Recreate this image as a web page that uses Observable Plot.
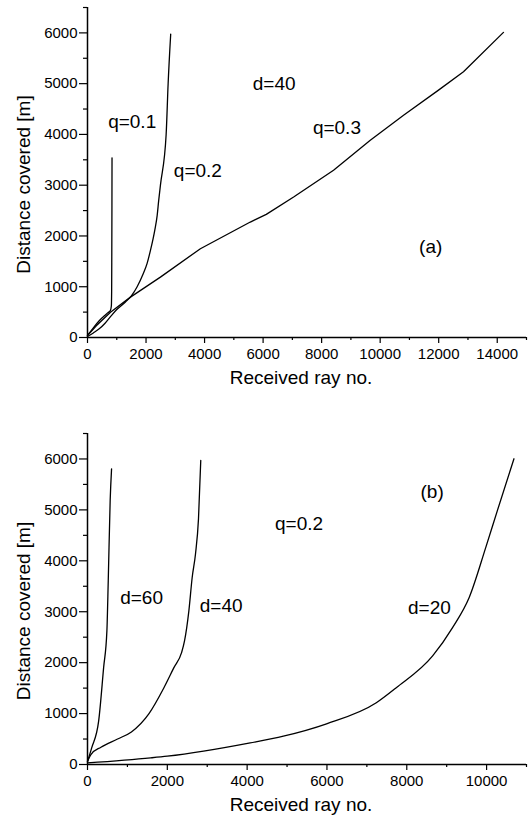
<!DOCTYPE html>
<html><head><meta charset="utf-8">
<script src="https://cdn.jsdelivr.net/npm/d3@7"></script>
<script src="https://cdn.jsdelivr.net/npm/@observablehq/plot@0.6"></script>
<style>body{margin:0;background:#fff} svg{display:block}</style>
</head><body><div id="chart"></div>
<script>
// ---------- Panel (a): d=40, varying q ----------
const aQ01X = [0, 200, 400, 600, 700, 780, 815, 825, 830, 835, 838];
const aQ01Y = [40, 190, 330, 440, 490, 530, 620, 900, 1600, 2600, 3540];
const aQ02X = [0, 200, 400, 600, 800, 1000, 1297, 1500, 1696, 1900, 2037, 2151, 2298, 2380, 2433, 2492, 2687, 2755, 2843];
const aQ02Y = [20, 90, 170, 280, 420, 550, 700, 820, 1000, 1250, 1460, 1716, 2110, 2400, 2700, 3000, 4000, 5000, 5976];
const aQ03X = [0, 300, 785, 1468, 2491, 3857, 5563, 6109, 7043, 8407, 9662, 10799, 11994, 12847, 14213];
const aQ03Y = [40, 230, 499, 795, 1189, 1749, 2274, 2426, 2767, 3294, 3886, 4379, 4872, 5233, 6010];
const aLabelText = ["q=0.1", "q=0.2", "d=40", "q=0.3", "(a)"];
const aLabelX = [1526, 3772, 6378, 8522, 11727];
const aLabelY = [4240, 3280, 5004, 4128, 1781];

// ---------- Panel (b): q=0.2, varying d ----------
const bD60X = [0, 105, 279, 404, 486, 520, 568, 603];
const bD60Y = [60, 327, 852, 1902, 2624, 3608, 5183, 5807];
const bD40X = [0, 90, 337, 753, 1100, 1541, 1915, 2165, 2357, 2431, 2540, 2623, 2706, 2781, 2838];
const bD40Y = [60, 200, 340, 500, 640, 1000, 1508, 1902, 2197, 2427, 3018, 3673, 4134, 4823, 5970];
const bD20X = [0, 1584, 2000, 4077, 4908, 5990, 7237, 7736, 8648, 9147, 9564, 9980, 10270, 10686];
const bD20Y = [30, 130, 163, 425, 557, 800, 1213, 1508, 2132, 2689, 3280, 4264, 4986, 6004];
const bLabelText = ["d=60", "d=40", "q=0.2", "(b)", "d=20"];
const bLabelX = [1354, 3349, 5300, 8636, 8566];
const bLabelY = [3268, 3116, 4724, 5346, 3083];

const xTicksA = [0, 2000, 4000, 6000, 8000, 10000, 12000, 14000];
const xMinorA = [1000, 3000, 5000, 7000, 9000, 11000, 13000, 15000];
const xTicksB = [0, 2000, 4000, 6000, 8000, 10000];
const xMinorB = [1000, 3000, 5000, 7000, 9000, 11000];
const yTicks = [0, 1000, 2000, 3000, 4000, 5000, 6000];
const yMinor = [500, 1500, 2500, 3500, 4500, 5500, 6500];
const xTitle = "Received ray no.";
const yTitle = "Distance covered [m]";

function toRows(name, xs, ys) { return xs.map((x, i) => ({series: name, x, y: ys[i]})); }
function toLabels(t, xs, ys) { return t.map((s, i) => ({text: s, x: xs[i], y: ys[i]})); }

function panel({smooth, straight, labels, xMax, xTicks, xMinor, height, marginTop, marginBottom}) {
  return Plot.plot({
    width: 532, height, marginLeft: 87, marginRight: 6, marginTop, marginBottom,
    style: {fontFamily: "'Liberation Sans', Arial, Helvetica, sans-serif", fontSize: "15px", color: "#000", background: "#fff"},
    x: {domain: [0, xMax]},
    y: {domain: [0, 6500]},
    marks: [
      Plot.axisX({ticks: xTicks, tickSize: 6, tickPadding: 5, tickFormat: d => String(d), label: null, strokeWidth: 1.2}),
      Plot.axisX({ticks: xMinor, tickSize: 3, tickFormat: () => "", label: null, strokeWidth: 1.2}),
      Plot.axisY({ticks: yTicks, tickSize: 8, tickPadding: 2, tickFormat: d => String(d), label: null, strokeWidth: 1.2}),
      Plot.axisY({ticks: yMinor, tickSize: 4, tickFormat: () => "", label: null, strokeWidth: 1.2}),
      Plot.ruleX([0], {stroke: "#000", strokeWidth: 1.5}),
      Plot.ruleY([0], {stroke: "#000", strokeWidth: 1.5}),
      Plot.line(smooth, {x: "x", y: "y", z: "series", stroke: "#000", strokeWidth: 1.3, curve: "monotone-x"}),
      Plot.line(straight, {x: "x", y: "y", z: "series", stroke: "#000", strokeWidth: 1.3, curve: "linear"}),
      Plot.text(labels, {x: "x", y: "y", text: "text", fontSize: 19, fill: "#000"}),
      Plot.text([xTitle], {frameAnchor: "bottom", dy: 46, dx: -6, textAnchor: "middle", text: d => d, fontSize: 19, fill: "#000"}),
      Plot.text([yTitle], {frameAnchor: "left", dx: -64, dy: 12, rotate: -90, textAnchor: "middle", text: d => d, fontSize: 19, fill: "#000"})
    ]
  });
}

const smoothA = [...toRows("q=0.1", aQ01X, aQ01Y), ...toRows("q=0.2", aQ02X, aQ02Y)];
const straightA = toRows("q=0.3", aQ03X, aQ03Y);
const smoothB = [...toRows("d=60", bD60X, bD60Y), ...toRows("d=40", bD40X, bD40Y), ...toRows("d=20", bD20X, bD20Y)];

const root = document.getElementById("chart");
root.append(panel({smooth: smoothA, straight: straightA, labels: toLabels(aLabelText, aLabelX, aLabelY), xMax: 15000, xTicks: xTicksA, xMinor: xMinorA, height: 412, marginTop: 7, marginBottom: 75}));
root.append(panel({smooth: smoothB, straight: [], labels: toLabels(bLabelText, bLabelX, bLabelY), xMax: 11000, xTicks: xTicksB, xMinor: xMinorB, height: 413, marginTop: 21, marginBottom: 61}));
</script>
</body></html>
